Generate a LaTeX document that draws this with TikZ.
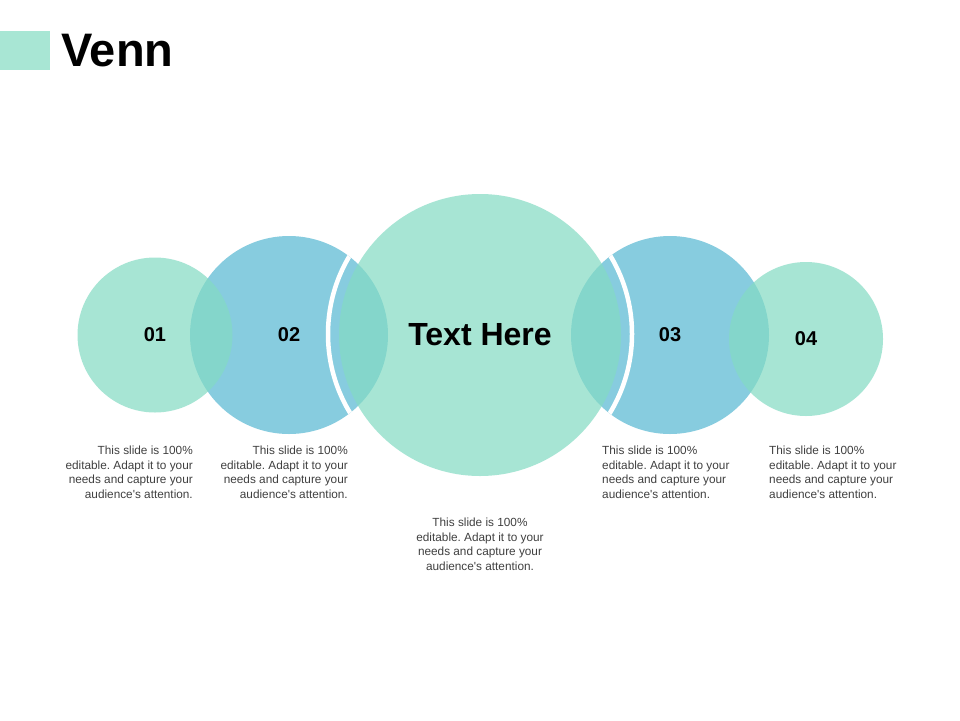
\documentclass[tikz,border=0pt]{standalone}
\usepackage{fontspec}
\setmainfont{Liberation Sans}
\usepackage{tikz}
\definecolor{mint}{RGB}{131,219,195}
\definecolor{sky}{RGB}{135,204,223}
\definecolor{titlemint}{RGB}{168,230,212}
\definecolor{bodygray}{RGB}{64,64,64}
\newcommand{\slidetext}{This slide is 100\%\\editable. Adapt it to your\\needs and capture your\\audience\textquotesingle s attention.}
\frenchspacing

\begin{document}
\begin{tikzpicture}[x=1pt, y=-1pt,
        skydisc/.style={circle, inner sep=0pt, fill=sky, font=\bfseries\fontsize{20}{24}\selectfont},
        mintdisc/.style={circle, inner sep=0pt, fill=mint, fill opacity=0.7, text opacity=1, font=\bfseries\fontsize{20}{24}\selectfont},
        blurb/.style={inner sep=0pt, text=bodygray, font=\fontsize{11.8}{14.5}\selectfont}]
        \fill[white] (0,0) rectangle (960,720);
        \useasboundingbox (0,0) rectangle (960,720);
        % title
        \fill[titlemint] (0,31) rectangle (50,70);
        \node[inner sep=0pt, anchor=base west, font=\bfseries\fontsize{47}{56}\selectfont] (title) at (61,66) {Venn};
        % blue circles
        \node[skydisc, minimum size=198pt] (c2) at (289,335) {02};
        \node[skydisc, minimum size=198pt] (c3) at (670,335) {03};
        % white arcs round the big circle
        \begin{scope}
        \clip (c2.center) circle[radius=99pt];
        \draw[white, line width=4.5pt] (480,334) circle[radius=152pt];
        \end{scope}
        \begin{scope}
        \clip (c3.center) circle[radius=99pt];
        \draw[white, line width=4.5pt] (480,334) circle[radius=152pt];
        \end{scope}
        % mint circles
        \node[mintdisc, minimum size=155pt] (c1) at (155,335) {01};
        \node[mintdisc, minimum size=154pt] (c4) at (806,339) {04};
        \node[mintdisc, minimum size=282pt, font=\bfseries\fontsize{32}{38}\selectfont] (ctr) at (480,335) {Text Here};
        % texts
        \node[blurb, align=right, anchor=north east] (t1) at (193,446) {\slidetext};
        \node[blurb, align=right, anchor=north east] (t2) at (348,446) {\slidetext};
        \node[blurb, align=center, anchor=north] (t0) at (480,518) {\slidetext};
        \node[blurb, align=left, anchor=north west] (t3) at (602,446) {\slidetext};
        \node[blurb, align=left, anchor=north west] (t4) at (769,446) {\slidetext};
\end{tikzpicture}
\end{document}
